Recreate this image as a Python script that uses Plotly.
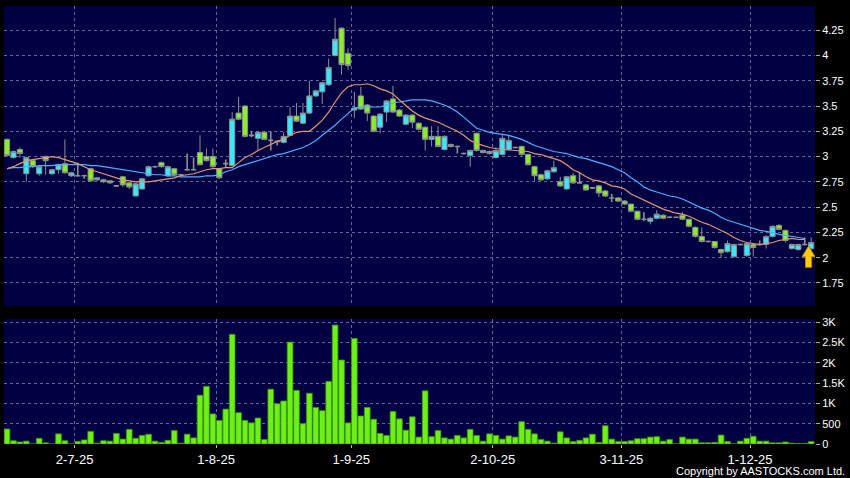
import pandas as pd
import plotly.graph_objects as go

# ---------------- data ----------------
holidays = ["2025-07-01", "2025-10-01", "2025-10-07", "2025-10-29"]
dates = [d for d in pd.bdate_range("2025-06-16", "2025-12-12").strftime("%Y-%m-%d")
         if d not in holidays]

opens = [
    3.17, 2.99, 3.07, 2.83, 2.96, 2.83, 3.00, 2.83, 2.87, 2.93,
    2.81, 2.81, 2.81, 2.88, 2.77, 2.77, 2.76, 2.71, 2.80, 2.74,
    2.61, 2.68, 2.81, 2.90, 2.94, 2.81, 2.88, 2.82, 2.87, 2.87,
    3.04, 3.00, 3.00, 2.88, 2.93, 2.91, 3.43, 3.50, 3.21, 3.18,
    3.24, 3.16, 3.15, 3.14, 3.21, 3.40, 3.33, 3.43, 3.60, 3.64,
    3.71, 4.00, 4.27, 4.02, 3.46, 3.60, 3.51, 3.40, 3.29, 3.44,
    3.57, 3.46, 3.32, 3.41, 3.33, 3.29, 3.17, 3.20, 3.07, 3.12,
    3.10, 3.03, 3.01, 3.23, 3.06, 3.03, 2.99, 3.02, 3.07, 3.09,
    3.10, 3.02, 2.90, 2.82, 2.78, 2.85, 2.75, 2.68, 2.81, 2.74,
    2.72, 2.69, 2.71, 2.66, 2.59, 2.59, 2.56, 2.53, 2.46, 2.38,
    2.36, 2.39, 2.42, 2.40, 2.40, 2.42, 2.38, 2.30, 2.21, 2.16,
    2.16, 2.08, 2.06, 2.01, 2.13, 2.02, 2.13, 2.13, 2.13, 2.21,
    2.32, 2.27, 2.09, 2.08, 2.13, 2.09]
highs = [
    3.18, 3.06, 3.09, 3.00, 2.97, 2.90, 3.01, 2.88, 2.93, 3.17,
    2.85, 2.94, 2.82, 2.89, 2.80, 2.78, 2.76, 2.72, 2.81, 2.74,
    2.74, 2.79, 2.91, 2.91, 2.95, 2.91, 2.88, 2.83, 3.03, 2.99,
    3.21, 3.08, 3.08, 2.88, 2.97, 3.44, 3.59, 3.51, 3.25, 3.25,
    3.25, 3.25, 3.16, 3.24, 3.49, 3.53, 3.53, 3.75, 3.66, 3.74,
    3.97, 4.37, 4.28, 4.07, 3.64, 3.69, 3.52, 3.41, 3.43, 3.56,
    3.70, 3.47, 3.42, 3.42, 3.34, 3.30, 3.30, 3.30, 3.21, 3.13,
    3.11, 3.04, 3.07, 3.24, 3.07, 3.06, 3.09, 3.22, 3.21, 3.10,
    3.11, 3.03, 2.91, 2.83, 2.87, 2.96, 2.80, 2.81, 2.84, 2.85,
    2.73, 2.70, 2.72, 2.67, 2.63, 2.60, 2.57, 2.53, 2.46, 2.45,
    2.40, 2.47, 2.43, 2.41, 2.40, 2.45, 2.38, 2.31, 2.30, 2.17,
    2.16, 2.09, 2.17, 2.14, 2.14, 2.15, 2.14, 2.17, 2.22, 2.32,
    2.33, 2.28, 2.14, 2.14, 2.20, 2.20]
lows = [
    3.00, 2.98, 2.99, 2.75, 2.89, 2.81, 2.82, 2.82, 2.83, 2.83,
    2.80, 2.80, 2.78, 2.75, 2.76, 2.74, 2.73, 2.70, 2.70, 2.68,
    2.61, 2.67, 2.80, 2.89, 2.89, 2.80, 2.81, 2.81, 2.86, 2.86,
    2.91, 2.95, 2.89, 2.78, 2.89, 2.90, 3.36, 3.19, 3.19, 3.06,
    3.16, 3.06, 3.11, 3.13, 3.20, 3.34, 3.32, 3.42, 3.59, 3.52,
    3.70, 3.99, 3.81, 3.86, 3.38, 3.46, 3.35, 3.24, 3.23, 3.34,
    3.43, 3.39, 3.31, 3.28, 3.26, 3.06, 3.10, 3.09, 3.06, 3.09,
    3.03, 3.02, 2.90, 3.05, 3.03, 3.02, 2.98, 3.01, 3.06, 3.08,
    3.01, 2.91, 2.76, 2.76, 2.77, 2.84, 2.70, 2.67, 2.73, 2.73,
    2.66, 2.68, 2.60, 2.60, 2.55, 2.55, 2.52, 2.45, 2.37, 2.36,
    2.33, 2.38, 2.38, 2.39, 2.40, 2.37, 2.30, 2.20, 2.15, 2.15,
    2.09, 2.00, 2.05, 2.00, 2.12, 2.01, 2.01, 2.12, 2.09, 2.20,
    2.27, 2.15, 2.08, 2.07, 2.12, 2.08]
closes = [
    3.01, 3.05, 3.03, 2.99, 2.90, 2.90, 2.96, 2.87, 2.92, 2.84,
    2.84, 2.81, 2.81, 2.76, 2.79, 2.75, 2.74, 2.71, 2.72, 2.70,
    2.73, 2.78, 2.90, 2.90, 2.90, 2.90, 2.82, 2.82, 2.87, 2.87,
    2.92, 2.96, 2.90, 2.79, 2.93, 3.37, 3.37, 3.20, 3.21, 3.24,
    3.17, 3.16, 3.15, 3.20, 3.40, 3.35, 3.43, 3.60, 3.65, 3.73,
    3.88, 4.16, 3.91, 3.90, 3.48, 3.47, 3.43, 3.25, 3.42, 3.55,
    3.44, 3.40, 3.41, 3.34, 3.27, 3.17, 3.20, 3.10, 3.20, 3.10,
    3.10, 3.03, 3.06, 3.06, 3.04, 3.05, 3.06, 3.18, 3.16, 3.09,
    3.02, 2.92, 2.81, 2.77, 2.86, 2.89, 2.71, 2.80, 2.74, 2.74,
    2.67, 2.69, 2.64, 2.61, 2.59, 2.56, 2.53, 2.46, 2.38, 2.38,
    2.39, 2.43, 2.39, 2.40, 2.40, 2.38, 2.31, 2.21, 2.16, 2.16,
    2.10, 2.05, 2.14, 2.13, 2.13, 2.14, 2.10, 2.13, 2.21, 2.31,
    2.28, 2.17, 2.13, 2.13, 2.13, 2.15]
volumes = [
    370, 80, 50, 70, 0, 140, 30, 0, 250, 80,
    0, 60, 100, 310, 20, 80, 70, 260, 120, 360,
    140, 210, 240, 70, 40, 90, 330, 20, 240, 150,
    1200, 1420, 740, 580, 860, 2700, 770, 580, 520, 640,
    110, 1350, 990, 1060, 2510, 1320, 500, 1250, 900, 820,
    1540, 2930, 2070, 520, 2600, 690, 900, 610, 260, 210,
    800, 620, 340, 670, 170, 1310, 180, 330, 150, 120,
    210, 150, 360, 210, 70, 250, 210, 120, 200, 170,
    550, 360, 250, 110, 70, 20, 300, 150, 60, 90,
    150, 240, 40, 450, 120, 60, 60, 80, 130, 130,
    170, 180, 70, 110, 0, 170, 120, 120, 30, 30,
    40, 220, 60, 0, 70, 140, 190, 70, 70, 30,
    30, 50, 20, 10, 10, 60]
ma_short = [
    2.88, 2.90, 2.93, 2.96, 2.97, 2.98, 2.99, 3.00, 2.99, 2.97,
    2.95, 2.93, 2.90, 2.87, 2.85, 2.83, 2.81, 2.79, 2.77, 2.76,
    2.75, 2.75, 2.75, 2.76, 2.77, 2.78, 2.79, 2.81, 2.82, 2.83,
    2.85, 2.87, 2.88, 2.88, 2.89, 2.89, 2.94, 2.99, 3.02, 3.06,
    3.09, 3.12, 3.15, 3.17, 3.21, 3.24, 3.25, 3.25, 3.30, 3.36,
    3.44, 3.54, 3.63, 3.69, 3.71, 3.71, 3.72, 3.70, 3.67, 3.65,
    3.62, 3.56, 3.50, 3.45, 3.41, 3.38, 3.36, 3.34, 3.31, 3.28,
    3.25, 3.21, 3.16, 3.13, 3.11, 3.09, 3.08, 3.07, 3.065, 3.06,
    3.055, 3.05, 3.03, 3.02, 3.00, 2.98, 2.96, 2.92, 2.87, 2.84,
    2.80, 2.77, 2.76, 2.74, 2.71, 2.70, 2.68, 2.63, 2.60, 2.57,
    2.54, 2.51, 2.48, 2.46, 2.44, 2.43, 2.41, 2.38, 2.35, 2.33,
    2.30, 2.27, 2.24, 2.20, 2.17, 2.15, 2.14, 2.13, 2.14, 2.15,
    2.17, 2.18, 2.19, 2.18, 2.18, None]
ma_long = [
    2.88, 2.89, 2.89, 2.90, 2.90, 2.91, 2.91, 2.91, 2.92, 2.92,
    2.92, 2.92, 2.92, 2.91, 2.91, 2.90, 2.89, 2.88, 2.87, 2.86,
    2.85, 2.84, 2.83, 2.82, 2.82, 2.81, 2.81, 2.80, 2.80, 2.80,
    2.80, 2.81, 2.81, 2.82, 2.85, 2.87, 2.90, 2.92, 2.94, 2.96,
    2.98, 3.00, 3.02, 3.03, 3.05, 3.07, 3.09, 3.12, 3.16, 3.21,
    3.26, 3.31, 3.37, 3.43, 3.48, 3.49, 3.49, 3.49, 3.49, 3.51,
    3.53, 3.54, 3.55, 3.56, 3.56, 3.56, 3.55, 3.53, 3.51, 3.48,
    3.44, 3.39, 3.33, 3.28, 3.26, 3.24, 3.23, 3.22, 3.21, 3.19,
    3.17, 3.14, 3.11, 3.09, 3.07, 3.05, 3.04, 3.03, 3.01, 2.99,
    2.98, 2.96, 2.94, 2.92, 2.90, 2.87, 2.84, 2.79, 2.75, 2.70,
    2.67, 2.65, 2.63, 2.61, 2.60, 2.58, 2.55, 2.52, 2.49, 2.47,
    2.44, 2.40, 2.37, 2.35, 2.33, 2.31, 2.29, 2.27, 2.26, 2.25,
    2.23, 2.22, 2.21, 2.20, 2.19, None]

tick_dates = ["2025-07-02", "2025-08-01", "2025-09-01", "2025-10-02", "2025-11-03", "2025-12-01"]
tick_labels = ["2-7-25", "1-8-25", "1-9-25", "2-10-25", "3-11-25", "1-12-25"]
price_ticks = [1.75, 2, 2.25, 2.5, 2.75, 3, 3.25, 3.5, 3.75, 4, 4.25]
price_tick_labels = ["1.75", "2", "2.25", "2.5", "2.75", "3", "3.25", "3.5", "3.75", "4", "4.25"]
vol_ticks = [0, 500, 1000, 1500, 2000, 2500, 3000]
vol_tick_labels = ["0", "500", "1K", "1.5K", "2K", "2.5K", "3K"]

# ---------------- styling ----------------
CYAN = "#38e8ff"
GREEN = "#86f224"
EDGE = "#8e8e8e"
VOL = "#6cf018"
GRID = "#66669a"
PLOTBG = "#000042"
ORANGE = "#e5966c"
BLUE = "#4cb0ff"
FONT = "Liberation Sans"

n = len(dates)
xs = list(range(n))
up = [i for i in xs if closes[i] > opens[i]]
down = [i for i in xs if closes[i] < opens[i]]
flat = [i for i in xs if closes[i] == opens[i]]


def sub(arr, idx):
    return [arr[i] for i in idx]


fig = go.Figure()
for idx, fill, lw in ((up, CYAN, 1), (down, GREEN, 1), (flat, EDGE, 1.6)):
    fig.add_trace(go.Candlestick(
        x=idx, open=sub(opens, idx), high=sub(highs, idx), low=sub(lows, idx), close=sub(closes, idx),
        increasing=dict(fillcolor=fill, line=dict(color=EDGE, width=lw)),
        decreasing=dict(fillcolor=fill, line=dict(color=EDGE, width=lw)),
        whiskerwidth=0, showlegend=False, hoverinfo="skip", xaxis="x", yaxis="y"))

fig.add_trace(go.Scatter(x=xs, y=ma_long, mode="lines", line=dict(color=BLUE, width=1.2),
                         showlegend=False, hoverinfo="skip", xaxis="x", yaxis="y"))
fig.add_trace(go.Scatter(x=xs, y=ma_short, mode="lines", line=dict(color=ORANGE, width=1.2),
                         showlegend=False, hoverinfo="skip", xaxis="x", yaxis="y"))

fig.add_trace(go.Bar(x=xs, y=volumes, marker=dict(color=VOL, line=dict(color="#3f9a0c", width=0.8)),
                     showlegend=False, hoverinfo="skip", xaxis="x2", yaxis="y2"))

tick_pos = [dates.index(d) - 0.5 for d in tick_dates]
xr = [-0.47, 125.6]

axis_common = dict(showline=False, zeroline=False, gridcolor=GRID, griddash="3px,3px", gridwidth=1)

fig.update_layout(
    width=850, height=478,
    margin=dict(l=4, r=35, t=6, b=34, autoexpand=False),
    paper_bgcolor="#000000", plot_bgcolor=PLOTBG,
    font=dict(family=FONT, color="#ffffff", size=11),
    boxmode="overlay", boxgap=0.2, boxgroupgap=0, bargap=0.12, hovermode=False,
    xaxis=dict(domain=[0, 1], anchor="y", range=xr, tickvals=tick_pos, ticktext=tick_labels,
               showticklabels=False, ticks="", rangeslider=dict(visible=False), **axis_common),
    xaxis2=dict(domain=[0, 1], anchor="y2", matches="x", range=xr, tickvals=tick_pos, ticktext=tick_labels,
                ticks="outside", ticklen=3, tickcolor="#bbbbbb",
                tickfont=dict(size=13, family=FONT, color="#ffffff"), **axis_common),
    yaxis=dict(domain=[0.315, 1], anchor="x", side="right", range=[1.522, 4.489],
               tickvals=price_ticks, ticktext=price_tick_labels, ticks="outside", ticklen=4,
               tickcolor="#aaaaaa", tickfont=dict(size=11, family=FONT, color="#ffffff"), **axis_common),
    yaxis2=dict(domain=[0, 0.2854], anchor="x2", side="right", range=[0, 3080],
                tickvals=vol_ticks, ticktext=vol_tick_labels, ticks="outside", ticklen=4,
                tickcolor="#aaaaaa", tickfont=dict(size=11, family=FONT, color="#ffffff"), **axis_common),
)

# yellow marker arrow pointing to the latest bar
ax = xs[-1] - 0.4
fig.add_shape(type="path", xref="x", yref="y",
              path=(f"M {ax},2.115 L {ax + 1.0},2.01 L {ax + 0.48},2.01 L {ax + 0.48},1.905 "
                    f"L {ax - 0.48},1.905 L {ax - 0.48},2.01 L {ax - 1.0},2.01 Z"),
              fillcolor="#ffcc11", line=dict(color="#c08a00", width=1), layer="above")

fig.add_annotation(text="Copyright by AASTOCKS.com Ltd.", xref="paper", yref="paper",
                   x=1.039, y=-0.062, xanchor="right", yanchor="middle", showarrow=False,
                   font=dict(size=11, family=FONT, color="#ffffff"))

fig.write_html("out.html", config={"displayModeBar": False},
               post_script="document.body.style.margin='0px';document.body.style.padding='0px';")
